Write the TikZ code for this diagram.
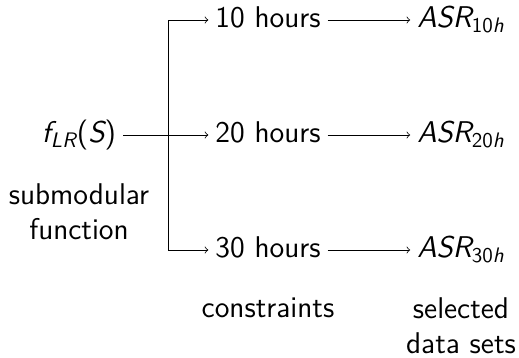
\documentclass[tikz,border=0pt]{standalone}
\usetikzlibrary{positioning}
\begin{document}
\begin{tikzpicture}[
  x=0.5pt, y=-0.5pt,
  every node/.style = {font=\fontsize{15}{17.5}\selectfont\sffamily},
  %--- node styles ---------------------------------------------------
  rowst/.style = {text height=0.74em, text depth=0pt},
  labst/.style = {align=center},
  arr/.style   = {->},
]
\useasboundingbox (0,0) rectangle (519,358);

% ---- Nodes --------------------------------------------------------
\node[rowst] (fLR) at (79,135)
    {{\itshape f}\textsubscript{\itshape LR}({\itshape S})};
\node[labst, below=13.5pt of fLR] (submod) {submodular\\function};

\coordinate (branch) at (168,135);

\node[rowst] (h10) at (268,20)  {10 hours};
\node[rowst] (h20) at (268,135) {20 hours};
\node[rowst] (h30) at (268,250) {30 hours};

\node[rowst] (asr10) at (461,20)  {{\itshape ASR}\textsubscript{10{\itshape h}}};
\node[rowst] (asr20) at (461,135) {{\itshape ASR}\textsubscript{20{\itshape h}}};
\node[rowst] (asr30) at (461,250) {{\itshape ASR}\textsubscript{30{\itshape h}}};

\node[labst, below=13pt of h30]   (constr) {constraints};
\node[labst, below=13pt of asr30] (sel)    {selected\\data sets};

% ---- Arrows -------------------------------------------------------
\draw[arr] (fLR)    -- (h20);
\draw[arr] (branch) |- (h10);
\draw[arr] (branch) |- (h30);
\draw[arr] (h10) -- (asr10);
\draw[arr] (h20) -- (asr20);
\draw[arr] (h30) -- (asr30);

\end{tikzpicture}
\end{document}
